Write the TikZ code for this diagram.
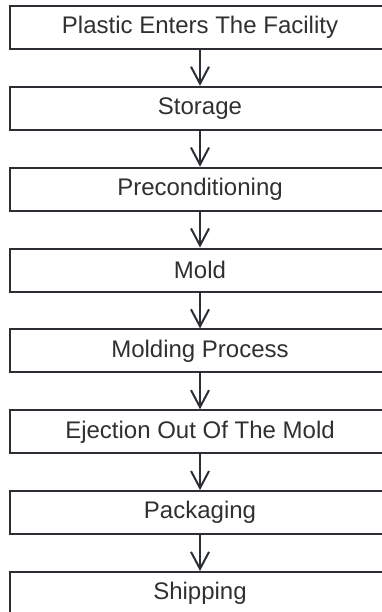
\documentclass[tikz,border=0pt]{standalone}
\usepackage{fontspec}
\setmainfont{Liberation Sans}
\usetikzlibrary{arrows.meta}
\definecolor{ink}{HTML}{2B2E33}
\definecolor{txt}{HTML}{303030}
\tikzset{
  stepbox/.style={draw=ink, line width=2pt, minimum width=380pt, minimum height=43pt,
    inner sep=0pt, text=txt, font=\fontsize{24}{28}\selectfont},
  flow/.style={draw=ink, line width=2pt, -{Straight Barb[length=17pt, width=18pt, line width=2pt]}}
}
\begin{document}
\begin{tikzpicture}[x=1pt, y=-1pt]
  \useasboundingbox (0,0) rectangle (382,612);
  \clip (0,0) rectangle (382,612);
  \foreach \n/\t [count=\i from 0] in {
      b1/Plastic Enters The Facility,
      b2/Storage,
      b3/Preconditioning,
      b4/Mold,
      b5/Molding Process,
      b6/Ejection Out Of The Mold,
      b7/Packaging,
      b8/Shipping}{
    \node[stepbox] (\n) at (200, 27.5+80.86*\i) {\t};
  }
  \foreach \a/\b in {b1/b2, b2/b3, b3/b4, b4/b5, b5/b6, b6/b7, b7/b8}{
    \draw[flow] (\a.south) -- (\b.north);
  }
\end{tikzpicture}
\end{document}
